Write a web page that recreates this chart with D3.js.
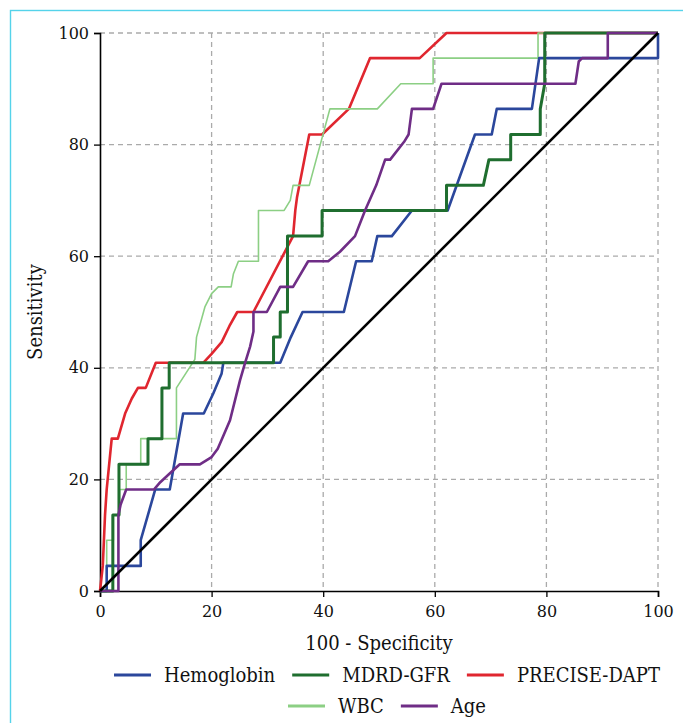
<!DOCTYPE html>
<html>
<head>
    <meta charset="utf-8" />
    <title>ROC curves</title>
    <script type="text/javascript" src="https://d3js.org/d3.v7.min.js"></script>
    <style>
        body { margin: 0; background: #fff; }
        .tick text { font-family: "DejaVu Serif", serif; font-size: 16px; fill: #111; }
        .title { font-family: "DejaVu Serif", "Liberation Serif", serif; font-stretch: condensed; font-size: 20px; fill: #111; }
        .grid line { stroke: #aaa; stroke-width: 1.3px; stroke-dasharray: 5,4; }
        .curve { fill: none; stroke-linejoin: round; }
    </style>
</head>
<body>
<script type="text/javascript">
    // ROC points, [100 - specificity, sensitivity]
    var hemoglobin = [[0,0],[1.2,0],[1.2,4.5],[7.3,4.5],[7.3,9.1],[9.9,18.2],[12.5,18.2],[14.9,31.8],[18.6,31.8],[20.3,35.4],[21.8,39],[22.1,40.9],[32.3,40.9],[34.2,45.5],[36.3,50],[43.7,50],[45.9,59.1],[48.7,59.1],[49.7,63.6],[52.3,63.6],[55.9,68.2],[62.3,68.2],[67.2,81.8],[70.2,81.8],[71.1,86.4],[77.4,86.4],[78.7,95.5],[100,95.5],[100,100]];
    var mdrdGfr = [[0,0],[2.3,0],[2.3,13.6],[3.4,13.6],[3.4,22.7],[8.6,22.7],[8.6,27.3],[11.1,27.3],[11.1,36.4],[12.4,36.4],[12.4,40.9],[31.1,40.9],[31.1,45.5],[32.3,45.5],[32.3,50],[33.6,50],[33.6,63.6],[39.8,63.6],[39.8,68.2],[62.1,68.2],[62.1,72.7],[68.7,72.7],[69.7,77.3],[73.6,77.3],[73.6,81.8],[78.9,81.8],[78.9,86.4],[79.7,90.9],[79.7,100],[100,100]];
    var preciseDapt = [[0,0],[0.5,4.5],[0.9,13.6],[1.2,18.2],[2.1,27.3],[3.2,27.3],[4.5,31.8],[5.7,34.5],[6.8,36.4],[8.2,36.4],[10,40.9],[18.5,40.9],[20,42.5],[21.8,44.6],[23.2,47.5],[24.6,50],[27.5,50],[34.6,63.6],[35,68.2],[35.3,70.5],[37.5,81.8],[39.8,81.8],[44.6,86.4],[48.4,95.5],[57.3,95.5],[62.1,100],[100,100]];
    var wbc = [[0,0],[1.2,0],[1.2,9.1],[2.4,9.1],[2.4,13.6],[3.5,13.6],[3.5,18.2],[4.7,18.2],[4.7,22.7],[7.3,22.7],[7.3,27.3],[13.7,27.3],[13.7,36.4],[17,41.5],[17.3,45.5],[18.8,50.9],[20,53.3],[21.2,54.5],[23.5,54.5],[23.9,56.8],[24.8,59.1],[28.4,59.1],[28.4,68.2],[33,68.2],[34.1,70],[34.6,72.7],[37.5,72.7],[41.2,86.4],[49.7,86.4],[53.9,90.9],[59.7,90.9],[59.7,95.5],[78.5,95.5],[78.5,100],[100,100]];
    var age = [[0,0],[3.3,0],[3.3,13.6],[3.7,15.5],[4.7,18.2],[9.7,18.2],[10.8,19.5],[12.2,20.8],[14.3,22.7],[17.9,22.7],[20,24],[21.1,25.5],[21.8,27.1],[23.3,30.6],[25.1,37.8],[26,40.9],[26.9,43.8],[27.5,46.5],[27.5,50],[29.9,50],[32.3,54.5],[34.6,54.5],[37.3,59.1],[40.9,59.1],[43,60.8],[45.7,63.6],[47.5,68.2],[49.5,72.7],[51.1,77.3],[52,77.3],[54.5,80.5],[55.3,81.8],[55.9,86.4],[59.7,86.4],[61.2,90.9],[85.2,90.9],[85.8,94.9],[86.4,95.5],[91,95.5],[91,100],[100,100]];
    var reference = [[0,0],[100,100]];

    var names = ["Hemoglobin", "MDRD-GFR", "PRECISE-DAPT", "WBC", "Age"];
    var colors = ["#2b479c", "#1f6e2f", "#e0262f", "#8ccf84", "#6f2d86"];
    var ticks = [0, 20, 40, 60, 80, 100];

    var W = 683, H = 723;
    var margin = {top: 33, right: 25, bottom: 132, left: 100},
        width = W - margin.left - margin.right,
        height = H - margin.top - margin.bottom;

    var x = d3.scaleLinear().domain([0, 100]).range([0, width]);
    var y = d3.scaleLinear().domain([0, 100]).range([height, 0]);

    var svg = d3.select("body").append("svg")
        .attr("width", W)
        .attr("height", H);

    // light frame round the figure
    svg.append("rect")
        .attr("x", 10.5).attr("y", 10.5)
        .attr("width", W).attr("height", H)
        .attr("fill", "none")
        .attr("stroke", "#55d3ea")
        .attr("stroke-width", 1.4);

    var g = svg.append("g")
        .attr("transform", "translate(" + margin.left + "," + margin.top + ")");

    // dashed grid
    var grid = g.append("g").attr("class", "grid");
    grid.selectAll(".gx").data(ticks.slice(1)).enter().append("line")
        .attr("x1", function(d) { return x(d); })
        .attr("x2", function(d) { return x(d); })
        .attr("y1", 0).attr("y2", height);
    grid.selectAll(".gy").data(ticks.slice(1)).enter().append("line")
        .attr("y1", function(d) { return y(d); })
        .attr("y2", function(d) { return y(d); })
        .attr("x1", 0).attr("x2", width);

    // axes
    var xAxis = g.append("g")
        .attr("transform", "translate(0," + height + ")")
        .call(d3.axisBottom(x).tickValues(ticks).tickSize(6).tickPadding(9));
    var yAxis = g.append("g")
        .call(d3.axisLeft(y).tickValues(ticks).tickSize(6).tickPadding(5));
    [xAxis, yAxis].forEach(function(a) {
        a.select(".domain").attr("stroke", "#000").attr("stroke-width", 1.6);
        a.selectAll(".tick line").attr("stroke", "#000").attr("stroke-width", 1.3);
    });

    // curves
    var line = d3.line()
        .x(function(d) { return x(d[0]); })
        .y(function(d) { return y(d[1]); });

    var series = [
        {data: preciseDapt, color: colors[2], w: 2.6},
        {data: wbc, color: colors[3], w: 1.6},
        {data: hemoglobin, color: colors[0], w: 2.6},
        {data: mdrdGfr, color: colors[1], w: 3},
        {data: age, color: colors[4], w: 2.6},
        {data: reference, color: "#000", w: 2.6}
    ];
    series.forEach(function(s) {
        g.append("path")
            .datum(s.data)
            .attr("class", "curve")
            .attr("stroke", s.color)
            .attr("stroke-width", s.w)
            .attr("d", line);
    });

    // axis titles
    svg.append("text")
        .attr("class", "title")
        .attr("x", margin.left + width / 2)
        .attr("y", 650)
        .attr("text-anchor", "middle")
        .text("100 - Specificity");
    svg.append("text")
        .attr("class", "title")
        .attr("transform", "translate(42," + (margin.top + height / 2) + ") rotate(-90)")
        .attr("text-anchor", "middle")
        .text("Sensitivity");

    // legend, two centred rows
    var rows = [[0, 1, 2], [3, 4]];
    var rowY = [675, 706];
    var legendCenter = 387;
    rows.forEach(function(row, ri) {
        var lg = svg.append("g");
        var cx = 0;
        row.forEach(function(i, k) {
            lg.append("line")
                .attr("x1", cx).attr("x2", cx + 37)
                .attr("y1", rowY[ri]).attr("y2", rowY[ri])
                .attr("stroke", colors[i])
                .attr("stroke-width", 3);
            var t = lg.append("text")
                .attr("class", "title")
                .attr("x", cx + 50)
                .attr("y", rowY[ri] + 7)
                .text(names[i]);
            cx += 50 + t.node().getComputedTextLength() + 17;
        });
        var total = cx - 17;
        lg.attr("transform", "translate(" + (legendCenter - total / 2) + ",0)");
    });
</script>
</body>
</html>
